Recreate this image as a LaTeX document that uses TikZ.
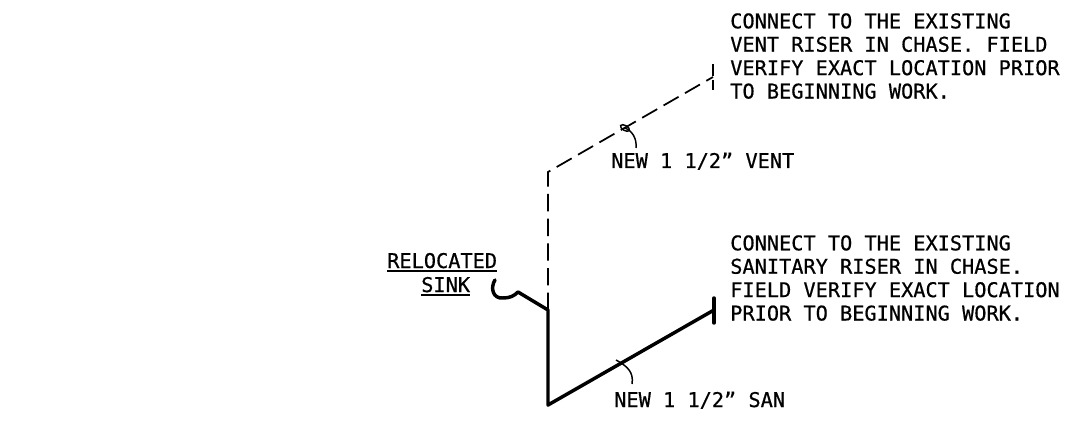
\documentclass[tikz,border=0pt]{standalone}
\usepackage{fontspec}
\setmainfont{DejaVu Sans Mono}[FakeBold=0.6]
\tikzset{
note/.style={inner sep=0pt,anchor=north west,align=left,font=\fontsize{15.2}{17.55}\selectfont},
label/.style={inner sep=0pt,anchor=base west,font=\fontsize{15.2}{17.55}\selectfont},
vent/.style={line width=1.3pt,dash pattern=on 13pt off 5.5pt},
san/.style={line width=2.6pt,line cap=round,line join=round},
leader/.style={line width=1.1pt},
under/.style={line width=1.5pt},
}
\begin{document}
\begin{tikzpicture}[x=0.75pt,y=-0.75pt]
\useasboundingbox (0,0) rectangle (1067,424);
\coordinate (ventend) at (713,77);
\coordinate (venttop) at (713,64);
\coordinate (ventbot) at (713,90);
\coordinate (ventbend) at (548,172);
\coordinate (tee) at (548,310);
\coordinate (sanbend) at (548,405);
\coordinate (sanend) at (714,310);
\coordinate (santop) at (714,298);
\coordinate (sanbot) at (714,323);
\coordinate (sinkbreak) at (518,292);
\coordinate (sinklow) at (503,298);
\coordinate (sinktip) at (495,280);
\coordinate (ventmark) at (625,128);
\coordinate (ventfoot) at (636,148);
\coordinate (sanmark) at (616,360);
\coordinate (sanfoot) at (632,384);
\node[note] (ventnote) at (730,13) {CONNECT TO THE EXISTING\\VENT RISER IN CHASE. FIELD\\VERIFY EXACT LOCATION PRIOR\\TO BEGINNING WORK.};
\node[note] (sannote) at (730,235) {CONNECT TO THE EXISTING\\SANITARY RISER IN CHASE.\\FIELD VERIFY EXACT LOCATION\\PRIOR TO BEGINNING WORK.};
\node[label] (ventlabel) at (611,168) {NEW 1 1/2" VENT};
\node[label] (sanlabel) at (614,407) {NEW 1 1/2" SAN};
\node[label] (relocated) at (387,268) {RELOCATED};
\node[label] (sink) at (421,292) {SINK};
\draw[vent] (tee) -- (ventbend) -- (ventend);
\draw[vent,dash pattern=on 9pt off 3pt] (venttop) -- (ventbot);
\draw[san] (sanend) -- (sanbend) -- (tee) -- (sinkbreak);
\draw[san] (santop) -- (sanbot);
\draw[san] (sinkbreak) .. controls (514,296) and (510,298) .. (sinklow) .. controls (493,299) and (490,288) .. (sinktip);
\draw[leader] (ventfoot) .. controls (637,138) and (632,131) .. (ventmark);
\draw[leader] (ventmark) ellipse [x radius=5,y radius=2.5,rotate=-30];
\draw[leader] (sanfoot) .. controls (634,372) and (627,366) .. (sanmark);
\draw[under] ([yshift=-2.2pt]relocated.base west) -- ([yshift=-2.2pt]relocated.base east);
\draw[under] ([yshift=-2.2pt]sink.base west) -- ([yshift=-2.2pt]sink.base east);
\end{tikzpicture}
\end{document}
